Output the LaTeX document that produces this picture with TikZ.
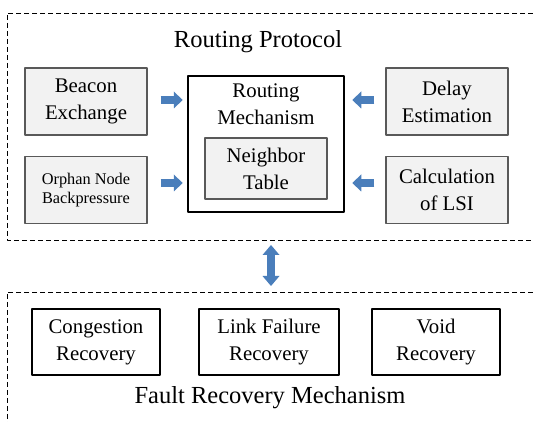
\documentclass[tikz,border=0pt]{standalone}
\usepackage{fontspec}
\setmainfont{Liberation Serif}
\usepackage{tikz}
\usetikzlibrary{arrows.meta}
\definecolor{boxgray}{HTML}{F2F2F2}
\definecolor{arrowblue}{HTML}{4A7EBB}

\begin{document}
\begin{tikzpicture}[line cap=round,line join=round,x=1pt,y=1pt,
  graybox/.style={draw=black!65,line width=1.1pt,fill=boxgray,align=center,
    minimum width=122pt,minimum height=67pt,font=\fontsize{20.8}{27}\selectfont},
  recbox/.style={draw=black,line width=2pt,fill=white,align=center,
    minimum height=66pt,font=\fontsize{20.8}{27}\selectfont},
  frame/.style={line width=0.8pt,dash pattern=on 5pt off 3pt,line cap=butt},
  blockarrow/.style={arrowblue,line width=8pt,line cap=butt,
    -{Triangle[length=9pt,width=17pt,line width=0pt]}}]
\useasboundingbox (0,0) rectangle (533,422);
% the two dashed frames
\draw [frame] (533,409)--(7,409)--(7,182)--(533,182);
\draw [frame] (533,130)--(7,130)--(7,0);
\coordinate (rpbottom) at (271,182);
\coordinate (frtop) at (271,130);
\node (rptitle) at (258,380) {\fontsize{24.5}{28}\selectfont Routing Protocol};
\node (frtitle) at (270,24) {\fontsize{24.5}{28}\selectfont Fault Recovery Mechanism};
% routing protocol
\node [graybox] (beacon) at (86,320.5) {Beacon\\Exchange};
\node [graybox,font=\fontsize{16.3}{19.5}\selectfont] (orphan) at (86,232) {Orphan Node\\Backpressure};
\node [graybox] (delay) at (447,320.5) {Delay\\Estimation};
\node [graybox] (lsi) at (447,232) {Calculation\\of LSI};
\node [draw=black,line width=2.5pt,minimum width=156pt,minimum height=136pt] (mech) at (266,278) {};
\node [align=center,font=\fontsize{20.8}{27}\selectfont] (mechlabel) at (266,318) {Routing\\Mechanism};
\node [graybox,minimum height=61pt] (table) at (266,253.5) {Neighbor\\Table};
\draw [blockarrow,shorten <=13pt,shorten >=4pt] (beacon.east|-0,322) -- (mech.west|-0,322);
\draw [blockarrow,shorten <=13pt,shorten >=4pt] (orphan.east|-0,239) -- (mech.west|-0,239);
\draw [blockarrow,shorten <=11pt,shorten >=7pt] (delay.west|-0,322) -- (mech.east|-0,322);
\draw [blockarrow,shorten <=11pt,shorten >=7pt] (lsi.west|-0,239) -- (mech.east|-0,239);
\draw [blockarrow,{Triangle[length=10pt,width=17pt,line width=0pt]}-{Triangle[length=10pt,width=17pt,line width=0pt]},
  shorten <=5pt,shorten >=6pt] (rpbottom) -- (frtop);
% fault recovery
\node [recbox,minimum width=128pt] (congestion) at (96,80) {Congestion\\Recovery};
\node [recbox,minimum width=140pt] (linkfail) at (269,80) {Link Failure\\Recovery};
\node [recbox,minimum width=128pt] (void) at (436,80) {Void\\Recovery};
\end{tikzpicture}
\end{document}
